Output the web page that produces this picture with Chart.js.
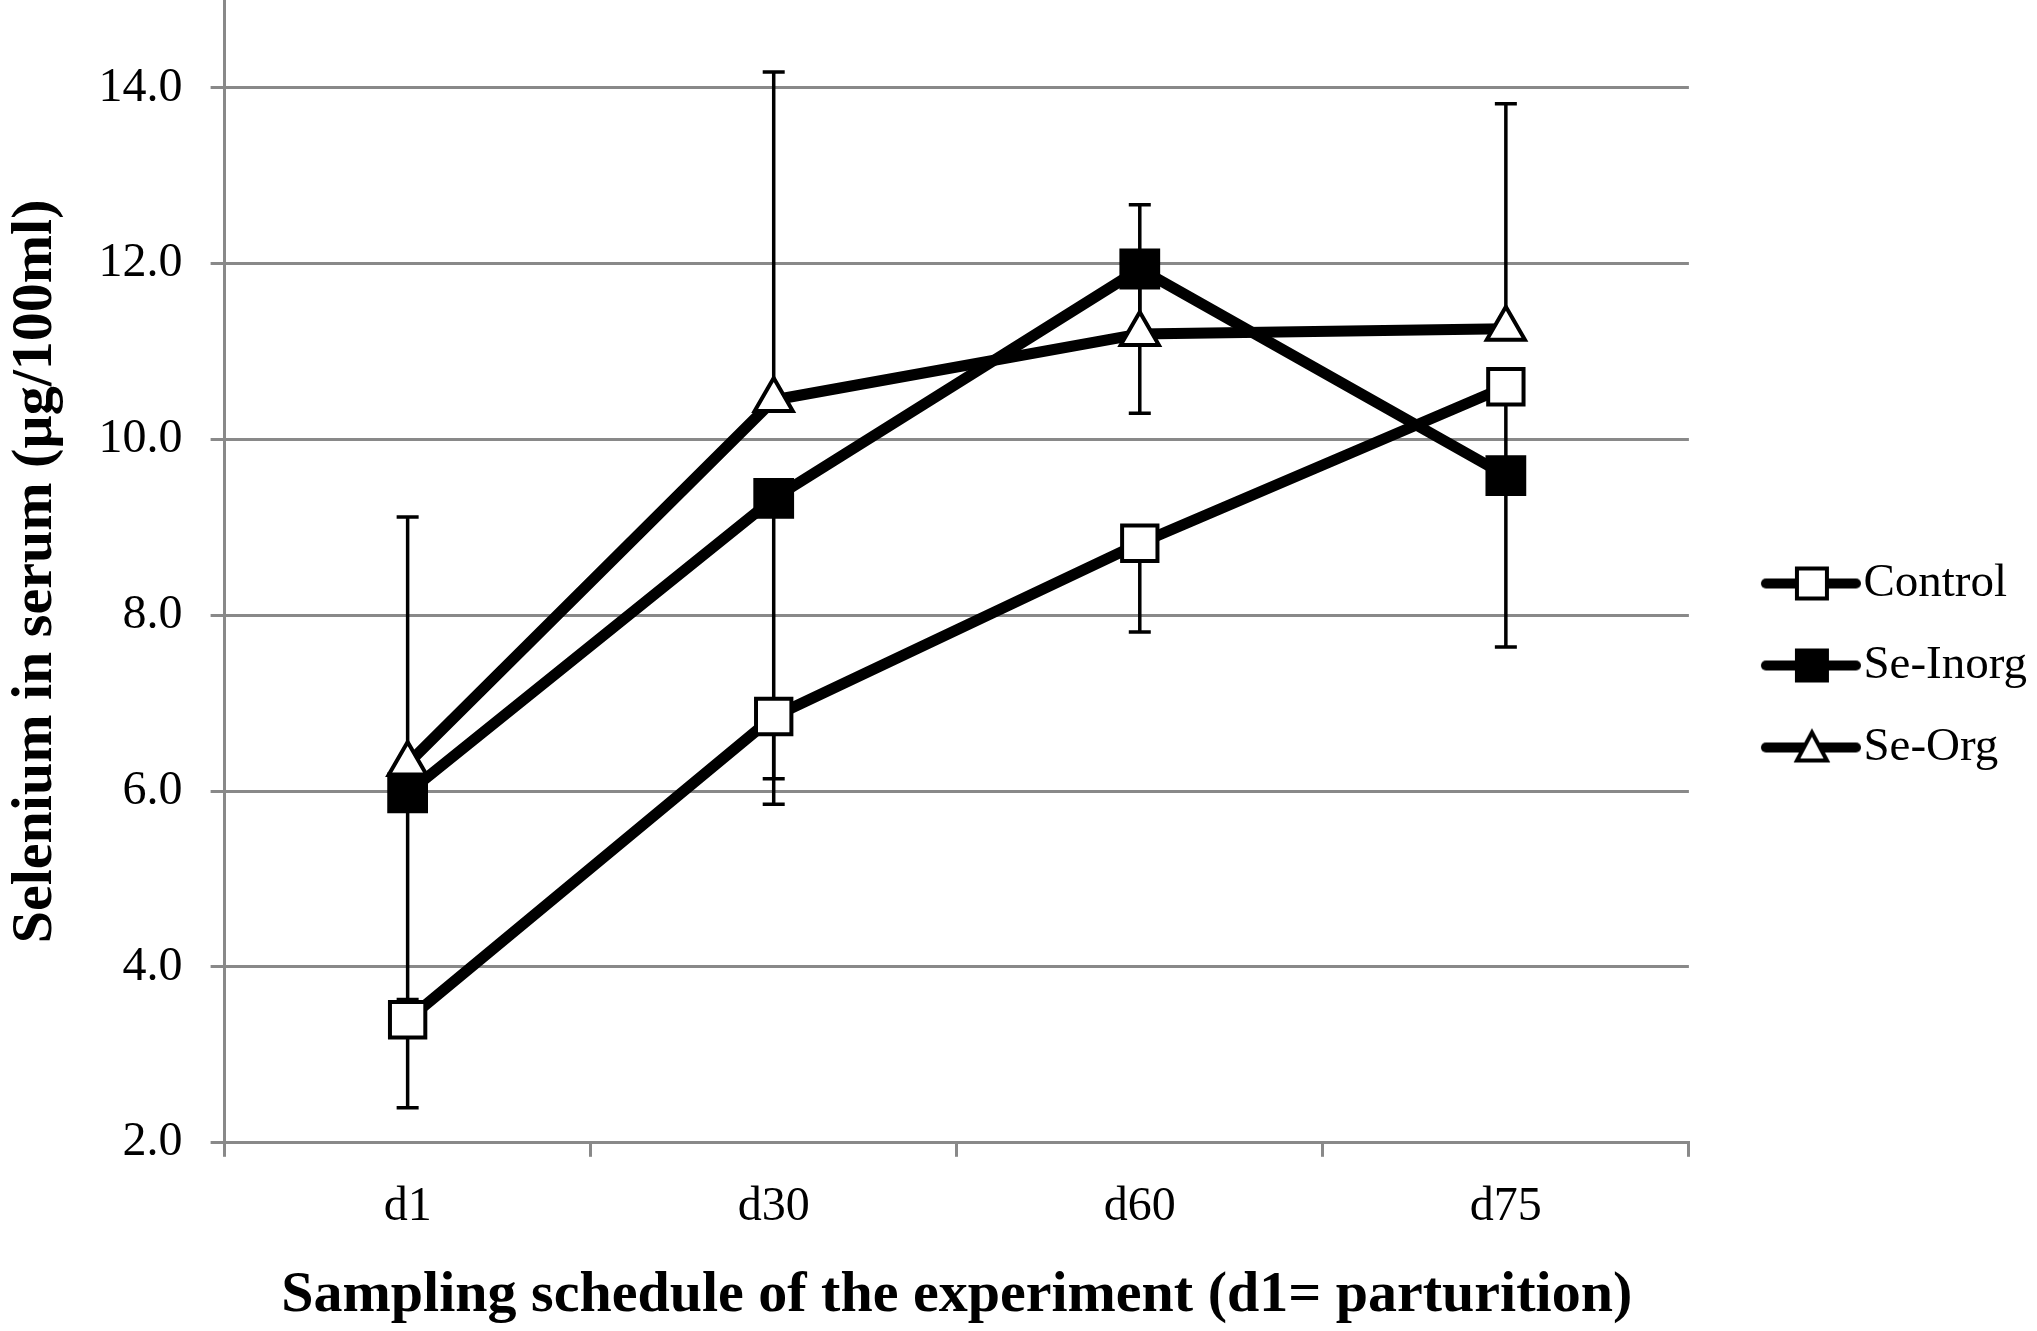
<!DOCTYPE html>
<html>
<head>
<meta charset="utf-8">
<script src="https://cdn.jsdelivr.net/npm/chart.js@4/dist/chart.umd.min.js"></script>
<style>
  html, body { margin: 0; padding: 0; background: #ffffff; }
  #wrap { width: 2037px; height: 1331px; }
</style>
</head>
<body>
<div id="wrap"><canvas id="c" width="2037" height="1331"></canvas></div>
<script>
// ---- data ----
const categories = ['d1', 'd30', 'd60', 'd75'];
const yTicks = [2, 4, 6, 8, 10, 12, 14];
const seriesNames = ['Control', 'Se-Inorg', 'Se-Org'];
const controlValues = [3.40, 6.85, 8.82, 10.60];
const seInorgValues = [5.98, 9.33, 11.94, 9.59];
const seOrgValues = [6.31, 10.45, 11.20, 11.26];
const controlErrMinus = [1.00, 1.00, 1.01, 1.00];
const controlErrPlus = [0, 0, 0, 0];
const seInorgErrMinus = [2.35, 3.19, 1.64, 1.95];
const seInorgErrPlus = [0, 0, 0, 0];
const seOrgErrMinus = [0, 0, 0, 0];
const seOrgErrPlus = [2.81, 3.73, 1.47, 2.56];
const xTitle = 'Sampling schedule of the experiment (d1= parturition)';
const yTitle = 'Selenium in serum (\u00b5g/100ml)';

const GRID = '#898989';
const FONT = "'Liberation Serif', 'Times New Roman', serif";
Chart.defaults.font.family = FONT;
Chart.defaults.color = '#000';

function legendIcon(kind) {
  const c = document.createElement('canvas');
  c.width = 158; c.height = 40;
  const g = c.getContext('2d');
  g.strokeStyle = '#000'; g.lineWidth = 10; g.lineCap = 'round';
  g.beginPath(); g.moveTo(63, 20); g.lineTo(153, 20); g.stroke();
  const cx = 109, cy = 20;
  g.lineWidth = 4; g.lineJoin = 'miter';
  if (kind === 'open') {
    g.fillStyle = '#fff';
    g.fillRect(cx - 15, cy - 15, 30, 30);
    g.strokeRect(cx - 15, cy - 15, 30, 30);
  } else if (kind === 'filled') {
    g.fillStyle = '#000';
    g.fillRect(cx - 17, cy - 17, 34, 34);
  } else {
    g.fillStyle = '#fff';
    g.beginPath();
    g.moveTo(cx, cy - 15); g.lineTo(cx + 15, cy + 13); g.lineTo(cx - 15, cy + 13); g.closePath();
    g.fill(); g.stroke();
  }
  return c;
}
const icons = [legendIcon('open'), legendIcon('filled'), legendIcon('tri')];

const errSets = [
  {minus: controlErrMinus, plus: controlErrPlus},
  {minus: seInorgErrMinus, plus: seInorgErrPlus},
  {minus: seOrgErrMinus, plus: seOrgErrPlus}
];

const errorBars = {
  id: 'errorBars',
  beforeDatasetsDraw(chart) {
    const {ctx, scales: {x, y}} = chart;
    ctx.save();
    ctx.strokeStyle = '#000';
    ctx.lineWidth = 3.5;
    chart.data.datasets.forEach((ds, i) => {
      const e = errSets[i];
      ds.data.forEach((v, j) => {
        const px = x.getPixelForValue(j);
        const segs = [];
        if (e.plus[j] > 0) segs.push(v + e.plus[j]);
        if (e.minus[j] > 0) segs.push(v - e.minus[j]);
        segs.forEach(end => {
          const y0 = y.getPixelForValue(v), y1 = y.getPixelForValue(end);
          ctx.beginPath();
          ctx.moveTo(px, y0); ctx.lineTo(px, y1);
          ctx.moveTo(px - 11, y1); ctx.lineTo(px + 11, y1);
          ctx.stroke();
        });
      });
    });
    ctx.restore();
  }
};

const common = { borderColor: '#000', borderWidth: 11, pointBorderColor: '#000', pointBorderWidth: 4, tension: 0, fill: false };

new Chart(document.getElementById('c'), {
  type: 'line',
  data: {
    labels: categories,
    datasets: [
      Object.assign({}, common, { label: seriesNames[0], data: controlValues, pointStyle: 'rect', pointRadius: 25, pointBackgroundColor: '#fff' }),
      Object.assign({}, common, { label: seriesNames[1], data: seInorgValues, pointStyle: 'rect', pointRadius: 26, pointBackgroundColor: '#000' }),
      Object.assign({}, common, { label: seriesNames[2], data: seOrgValues, pointStyle: 'triangle', pointRadius: 22, pointBackgroundColor: '#fff' })
    ]
  },
  options: {
    responsive: false,
    animation: false,
    layout: { padding: 0, autoPadding: false },
    plugins: {
      tooltip: { enabled: false },
      legend: {
        position: 'right',
        labels: {
          usePointStyle: true,
          pointStyleWidth: 116,
          padding: 35,
          color: '#000',
          font: { size: 47, family: FONT },
          generateLabels(chart) {
            return chart.data.datasets.map((ds, i) => ({
              text: ds.label, pointStyle: icons[i], datasetIndex: i,
              fillStyle: '#000', strokeStyle: '#000', lineWidth: 0, hidden: false, fontColor: '#000'
            }));
          }
        }
      }
    },
    scales: {
      x: {
        type: 'category',
        offset: true,
        afterFit(s) { s.paddingLeft = 0; s.paddingRight = 0; },
        grid: { offset: true, drawOnChartArea: false, drawTicks: true, tickLength: 14, color: GRID, lineWidth: 3 },
        border: { color: GRID, width: 3 },
        ticks: { padding: 22, font: { size: 48 }, color: '#000' },
        title: { display: true, text: xTitle, font: { size: 58, weight: 'bold' }, color: '#000', padding: { top: 3, bottom: 0 } }
      },
      y: {
        min: 2,
        max: 15,
        afterBuildTicks(s) { s.ticks = yTicks.map(v => ({ value: v })); },
        afterFit(s) { s.paddingTop = 0; s.paddingBottom = 0; },
        grid: { color: GRID, lineWidth: 3, tickLength: 14, drawTicks: true },
        border: { color: GRID, width: 3 },
        ticks: { padding: 28, font: { size: 48 }, color: '#000', callback: v => Number(v).toFixed(1) },
        title: { display: true, text: yTitle, font: { size: 58, weight: 'bold' }, color: '#000', padding: { top: 1, bottom: 0 } }
      }
    }
  },
  plugins: [errorBars]
});
</script>
</body>
</html>
